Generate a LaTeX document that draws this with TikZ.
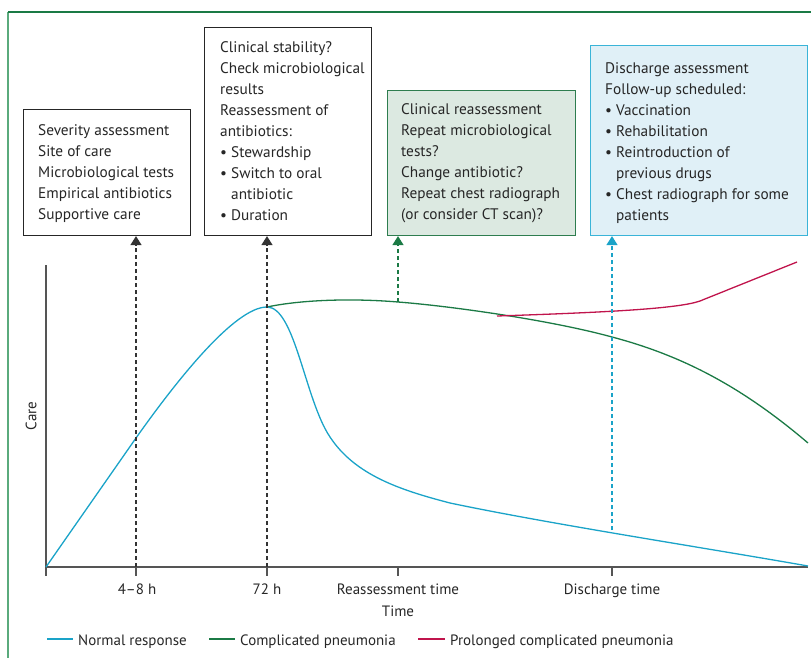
\documentclass[tikz,border=0pt]{standalone}
\usepackage{fontspec}
\setmainfont{PT Sans}
\usetikzlibrary{arrows.meta}
\definecolor{cblue}{HTML}{1AA3C8}
\definecolor{cgreen}{HTML}{1B7A45}
\definecolor{cred}{HTML}{C0144C}
\definecolor{axisgrey}{HTML}{555555}
\definecolor{dashgrey}{HTML}{333333}
\definecolor{greenfill}{HTML}{DCE9E1}
\definecolor{greenedge}{HTML}{2E7D4F}
\definecolor{bluefill}{HTML}{E0F0F7}
\definecolor{blueedge}{HTML}{3AB4D8}
\definecolor{frametop}{HTML}{1A7A45}
\definecolor{frameleft}{HTML}{5AAA7C}
\tikzset{
  boxshape/.style={draw=black!85, line width=1.1pt, fill=white, anchor=north west, inner sep=0pt},
  boxtext/.style={anchor=north west, inner sep=0pt, align=left, text=black!85, font=\fontsize{15.3}{21}\selectfont},
  curve/.style={line width=1.3pt},
  axisline/.style={draw=axisgrey, line width=1.6pt},
  ticklabel/.style={font=\fontsize{15}{18}\selectfont, text=black!85, inner sep=0pt, anchor=base},
  pointer/.style={dash pattern=on 4pt off 3pt, line width=1.2pt, -{Triangle[width=11pt,length=9pt]}},
  legendline/.style={line width=1.5pt},
}
\newcommand{\hang}{\phantom{\textbullet\ }}
\begin{document}
\begin{tikzpicture}[x=1pt,y=-1pt]
\useasboundingbox (0,0) rectangle (811,658);
% frame
\draw[frameleft, line width=1.2pt] (8,658) -- (8,12);
\draw[frametop, line width=1.2pt] (8,12) -- (811,12);

% boxes
\node[boxshape, minimum width=167pt, minimum height=126pt] (b1) at (23,109) {};
\node[boxshape, minimum width=167pt, minimum height=208pt] (b2) at (204,27) {};
\node[boxshape, draw=greenedge, fill=greenfill, minimum width=188pt, minimum height=145pt] (b3) at (387,90) {};
\node[boxshape, draw=blueedge, fill=bluefill, minimum width=217pt, minimum height=190pt] (b4) at (590,45) {};

\node[boxtext] (t1) at (38,124) {Severity assessment\\Site of care\\Microbiological tests\\Empirical antibiotics\\Supportive care};
\node[boxtext] (t2) at (220,41) {Clinical stability?\\Check microbiological\\results\\Reassessment of\\antibiotics:\\\textbullet\ Stewardship\\\textbullet\ Switch to oral\\\hang antibiotic\\\textbullet\ Duration};
\node[boxtext] (t3) at (401,103) {Clinical reassessment\\Repeat microbiological\\tests?\\Change antibiotic?\\Repeat chest radiograph\\(or consider CT scan)?};
\node[boxtext] (t4) at (605,62) {Discharge assessment\\Follow-up scheduled:\\\textbullet\ Vaccination\\\textbullet\ Rehabilitation\\\textbullet\ Reintroduction of\\\hang previous drugs\\\textbullet\ Chest radiograph for some\\\hang patients};

% axes
\coordinate (o) at (46,567);
\coordinate (ytop) at (46,265);
\coordinate (xend) at (808,567);
\draw[axisline] (ytop) -- (o) -- (xend);
\foreach \x in {46,136,267,398,612} {
  \draw[axisline] (\x,567) -- (\x,576);
}
\node[ticklabel] (l1) at (137,594) {4–8 h};
\node[ticklabel] (l2) at (267,594) {72 h};
\node[ticklabel] (l3) at (398,594) {Reassessment time};
\node[ticklabel] (l4) at (612,594) {Discharge time};
\node[ticklabel] (lt) at (398,616) {Time};
\node[ticklabel, anchor=center, rotate=90] (lc) at (31,416) {Care};

% curves
\draw[curve, cgreen] (267,307) .. controls (300,300) and (350,298) .. (398,302)
   .. controls (450,306) and (550,320) .. (612,337)
   .. controls (680,355) and (740,385) .. (808,443);
\draw[curve, cred] (497,316) .. controls (620,312) and (680,308) .. (700,301) -- (797,262);
\draw[curve, cblue] (46,567) -- (136,438)
   .. controls (177,380) and (235,307) .. (267,307)
   .. controls (295,307) and (305,400) .. (330,437)
   .. controls (355,475) and (400,490) .. (450,503)
   .. controls (550,524) and (700,547) .. (808,566);

% pointers
\coordinate (p1) at (136,567);
\coordinate (p2) at (267,567);
\coordinate (p3) at (398,302);
\coordinate (p4) at (612,530);
\draw[pointer, dashgrey] (p1) -- (p1 |- b1.south);
\draw[pointer, dashgrey] (p2) -- (p2 |- b2.south);
\draw[pointer, cgreen] (p3) -- (p3 |- b3.south);
\draw[pointer, cblue] (p4) -- (p4 |- b4.south);

% legend
\coordinate (g1a) at (47,639); \coordinate (g1b) at (73,639);
\coordinate (g2a) at (209,639); \coordinate (g2b) at (235,639);
\coordinate (g3a) at (418,639); \coordinate (g3b) at (445,639);
\draw[legendline, cblue] (g1a) -- (g1b);
\draw[legendline, cgreen] (g2a) -- (g2b);
\draw[legendline, cred] (g3a) -- (g3b);
\node[ticklabel, anchor=base west] (n1) at (78,645) {Normal response};
\node[ticklabel, anchor=base west] (n2) at (240,645) {Complicated pneumonia};
\node[ticklabel, anchor=base west] (n3) at (450,645) {Prolonged complicated pneumonia};
\end{tikzpicture}
\end{document}
